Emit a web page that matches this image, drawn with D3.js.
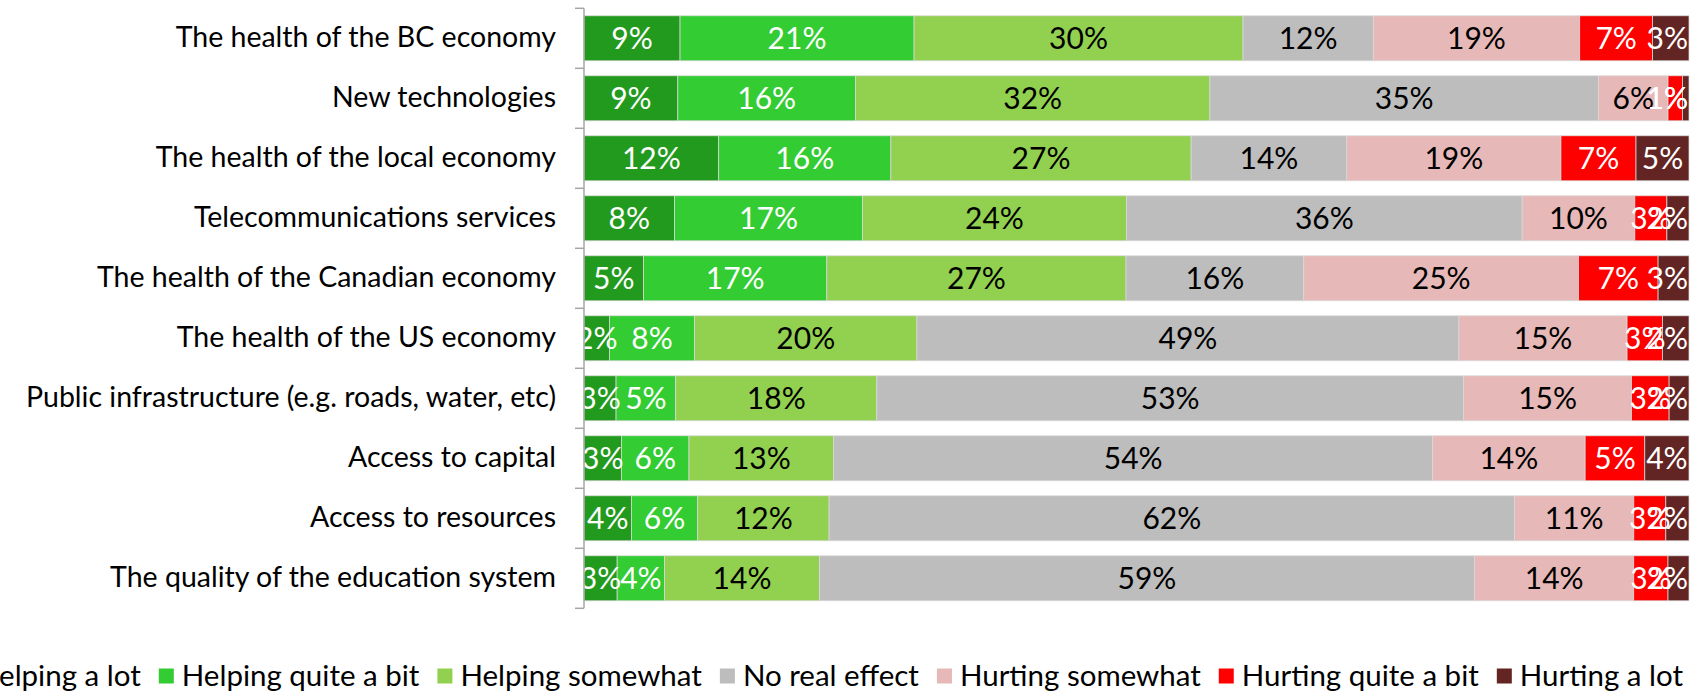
<!DOCTYPE html>
<html>
<head>
<meta charset="utf-8">
<script src="https://cdn.jsdelivr.net/npm/d3@7"></script>
<style>
  html, body { margin: 0; padding: 0; background: #fff; }
  svg { display: block; font-family: "Lato", "Noto Sans", sans-serif; }
</style>
</head>
<body>
<svg id="chart" width="1702" height="692"></svg>
<script>
const categories = [
  "The health of the BC economy",
  "New technologies",
  "The health of the local economy",
  "Telecommunications services",
  "The health of the Canadian economy",
  "The health of the US economy",
  "Public infrastructure (e.g. roads, water, etc)",
  "Access to capital",
  "Access to resources",
  "The quality of the education system"
];
const seriesNames = ["Helping a lot", "Helping quite a bit", "Helping somewhat", "No real effect", "Hurting somewhat", "Hurting quite a bit", "Hurting a lot"];
const helpingALot      = [8.7, 8.5, 12.2, 8.2, 5.4, 2.3, 2.9, 3.4, 4.3, 3.0];
const helpingQuiteABit = [21.2, 16.1, 15.6, 17.0, 16.6, 7.7, 5.4, 6.1, 6.0, 4.3];
const helpingSomewhat  = [29.8, 32.1, 27.2, 23.9, 27.1, 20.1, 18.2, 13.1, 11.9, 14.0];
const noRealEffect     = [11.8, 35.2, 14.1, 35.8, 16.1, 49.0, 53.1, 54.2, 62.1, 59.3];
const hurtingSomewhat  = [18.7, 6.3, 19.4, 10.2, 24.9, 15.2, 15.2, 13.8, 10.8, 14.4];
const hurtingQuiteABit = [6.6, 1.3, 6.8, 2.9, 7.2, 3.2, 3.4, 5.4, 2.9, 3.1];
const hurtingALot      = [3.3, 0.6, 4.8, 2.0, 2.8, 2.4, 1.8, 4.0, 2.1, 1.9];
const seriesColors = ["#229a1e", "#33cc33", "#92d050", "#bdbdbd", "#e6b8b7", "#ff0000", "#632523"];
const labelColors  = ["#ffffff", "#ffffff", "#000000", "#000000", "#000000", "#ffffff", "#ffffff"];

const seriesValues = [helpingALot, helpingQuiteABit, helpingSomewhat, noRealEffect, hurtingSomewhat, hurtingQuiteABit, hurtingALot];
const rows = categories.map((c, i) => {
  const r = { category: c };
  seriesNames.forEach((s, k) => { r[s] = seriesValues[k][i]; });
  return r;
});

const svg = d3.select("#chart");
const W = 1702, H = 692;
const plotLeft = 584, plotRight = 1689, plotTop = 8.3, plotBottom = 608.3;

const stack = d3.stack().keys(seriesNames).offset(d3.stackOffsetExpand);
const stacked = stack(rows);

const x = d3.scaleLinear().domain([0, 1]).range([plotLeft, plotRight]);
const y = d3.scaleBand().domain(categories).range([plotTop, plotBottom]).paddingInner(0.25).paddingOuter(0.125);

const catFs = 28.5, dataFs = 30, legFs = 29.5;
svg.append("clipPath").attr("id", "plotclip").append("rect")
  .attr("x", plotLeft).attr("y", 0).attr("width", W - plotLeft).attr("height", H);

const layers = svg.append("g").selectAll("g.layer").data(stacked).join("g")
  .attr("class", "layer").attr("fill", (d, i) => seriesColors[i]);

layers.selectAll("rect").data(d => d).join("rect")
  .attr("x", d => x(d[0]))
  .attr("y", d => y(d.data.category))
  .attr("width", d => x(d[1]) - x(d[0]))
  .attr("height", y.bandwidth())
  .attr("stroke", "#d9d9d9")
  .attr("stroke-width", 0.75);

// data labels
const lg = svg.append("g").attr("clip-path", "url(#plotclip)");
stacked.forEach((layer, k) => {
  layer.forEach(d => {
    const v = seriesValues[k][categories.indexOf(d.data.category)];
    const t = lg.append("text")
      .attr("y", y(d.data.category) + y.bandwidth() / 2)
      .attr("dy", "0.36em")
      .attr("text-anchor", "middle")
      .attr("font-size", dataFs)
      .attr("fill", labelColors[k])
      .text(Math.round(v) + "%");
    let cx = (x(d[0]) + x(d[1])) / 2;
    const w = t.node().getComputedTextLength();
    cx = Math.min(cx, plotRight - 1 - w / 2);
    t.attr("x", cx);
  });
});

// axis
const axisG = svg.append("g").attr("transform", `translate(${plotLeft},0)`);
axisG.call(d3.axisLeft(y).tickSize(0).tickPadding(28))
  .call(g => g.select(".domain").remove())
  .call(g => g.selectAll("text").attr("font-size", catFs).attr("fill", "#000").attr("font-family", "Lato, 'Noto Sans', sans-serif"));
const boundaries = d3.range(categories.length + 1).map(i => plotTop + i * y.step());
axisG.append("line").attr("x1", 0).attr("x2", 0).attr("y1", plotTop).attr("y2", plotBottom)
  .attr("stroke", "#a6a6a6").attr("stroke-width", 1.5);
axisG.selectAll("line.bt").data(boundaries).join("line").attr("class", "bt")
  .attr("x1", -9).attr("x2", 0).attr("y1", d => d).attr("y2", d => d)
  .attr("stroke", "#a6a6a6").attr("stroke-width", 1.5);

// legend
const legend = svg.append("g");
const sw = 15, gapSwatch = 8, gapItem = 18;
let cursor = 0;
seriesNames.forEach((s, k) => {
  const g = legend.append("g");
  g.append("rect").attr("x", 0).attr("y", -sw / 2).attr("width", sw).attr("height", sw).attr("fill", seriesColors[k]);
  const t = g.append("text").attr("x", sw + gapSwatch).attr("dy", "0.35em").attr("font-size", legFs).attr("fill", "#000").text(s);
  const w = sw + gapSwatch + t.node().getComputedTextLength();
  g.attr("transform", `translate(${cursor},0)`);
  cursor += w + gapItem;
});
const totalW = cursor - gapItem;
const legendRight = 1683;
legend.attr("transform", `translate(${legendRight - totalW},676)`);
</script>
</body>
</html>
